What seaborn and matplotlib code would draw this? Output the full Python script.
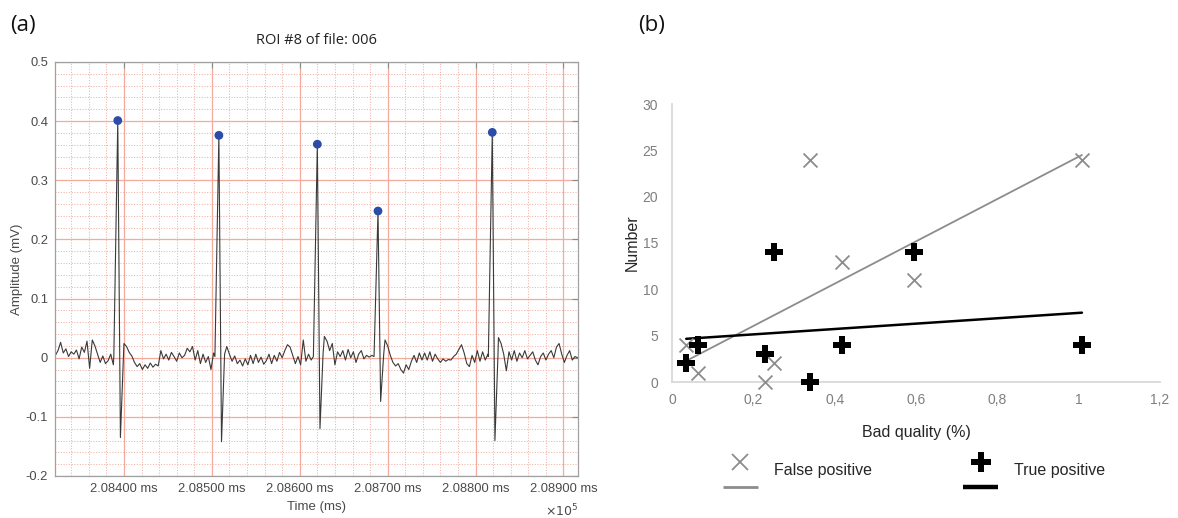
import numpy as np
import pandas as pd
import matplotlib
matplotlib.use("Agg")
import matplotlib.pyplot as plt
import seaborn as sns
from matplotlib.ticker import MultipleLocator, FixedLocator, FuncFormatter
from matplotlib.lines import Line2D
from matplotlib.legend_handler import HandlerBase

# ---------------- (a) ECG region of interest ----------------
t_start_ms = 208322.0
t_step_ms = 3.0
# baseline amplitude (mV), one sample every 3 ms
baseline_mv = [
    0.004, 0.012, 0.026, 0.008, 0.015, 0.002, 0.010, 0.006, 0.013, -0.002,
    0.018, 0.009, 0.028, -0.018, 0.030, 0.020, 0.006, -0.008, 0.003, -0.010,
    -0.005, 0.006, -0.012, 0.000, 0.000, 0.012, 0.024, 0.019, 0.009, 0.003,
    -0.008, -0.015, -0.010, -0.020, -0.012, -0.018, -0.009, -0.016, -0.011, -0.014,
    0.012, -0.002, 0.006, -0.004, 0.009, 0.002, -0.006, 0.008, 0.000, 0.004,
    0.016, 0.010, 0.019, -0.004, 0.012, -0.010, 0.006, -0.008, 0.002, -0.020,
    0.008, 0.004, 0.000, 0.000, 0.015, 0.019, 0.006, -0.006, 0.003, -0.010,
    -0.004, -0.014, -0.002, -0.012, 0.004, -0.010, 0.006, -0.008, 0.001, -0.011,
    -0.005, 0.006, -0.010, 0.004, -0.006, 0.009, 0.000, 0.012, 0.022, 0.018,
    0.004, -0.010, 0.002, -0.012, 0.030, -0.006, 0.006, -0.004, 0.000, 0.000,
    0.000, 0.000, 0.036, 0.028, 0.012, 0.024, -0.012, 0.010, 0.002, 0.012,
    -0.004, 0.014, 0.000, 0.010, -0.008, 0.006, 0.012, -0.002, 0.004, 0.001,
    0.004, 0.000, 0.000, 0.000, 0.000, 0.030, 0.020, 0.004, -0.008, -0.014,
    -0.010, -0.020, -0.026, -0.012, -0.020, -0.006, 0.004, -0.008, 0.008, -0.004,
    0.008, -0.004, 0.010, -0.006, 0.006, -0.002, -0.008, -0.002, -0.006, -0.003,
    -0.004, 0.002, 0.006, 0.014, 0.022, 0.008, -0.010, -0.015, 0.004, -0.008,
    0.012, -0.006, 0.010, -0.004, 0.006, 0.000, 0.000, 0.000, 0.034, 0.024,
    0.006, -0.022, 0.010, -0.004, 0.012, -0.006, 0.008, 0.000, 0.012, -0.002,
    0.004, 0.010, -0.004, -0.012, 0.002, 0.008, -0.004, 0.006, 0.012, 0.000,
    0.018, 0.024, 0.006, -0.008, 0.004, 0.012, -0.004, 0.002, 0.000,
]
# detected beats: R-peak time (ms), R amplitude and S trough (mV)
beat_times_ms = [208393, 208508, 208620, 208689, 208819]
r_peak_mv = [0.401, 0.376, 0.361, 0.248, 0.381]
s_trough_mv = [-0.135, -0.142, -0.120, -0.074, -0.140]

x_ticks_ms = [208400, 208500, 208600, 208700, 208800, 208900]

# ---------------- (b) detections vs. signal quality ----------------
bad_quality_pct = [0.035, 0.065, 0.229, 0.251, 0.340, 0.418, 0.596, 1.008]
false_positive = [4, 1, 0, 2, 24, 13, 11, 24]
true_positive = [2, 4, 3, 14, 0, 4, 14, 4]
b_xticks = [0, 0.2, 0.4, 0.6, 0.8, 1.0, 1.2]
b_yticks = [0, 5, 10, 15, 20, 25, 30]

# ---------------- build the ECG trace ----------------
t_base = t_start_ms + t_step_ms * np.arange(len(baseline_mv))
v_base = np.asarray(baseline_mv)
keep = np.ones(len(t_base), dtype=bool)
qrs_t, qrs_v = [], []
for tr, r, s in zip(beat_times_ms, r_peak_mv, s_trough_mv):
    keep &= ~((t_base > tr - 4.5) & (t_base < tr + 6.5))
    qrs_t += [tr - 4.5, tr, tr + 3.0, tr + 6.5]
    qrs_v += [0.002, r, s, 0.006]
ecg = pd.DataFrame({
    "t": np.concatenate([t_base[keep], qrs_t]),
    "mv": np.concatenate([v_base[keep], qrs_v]),
}).sort_values("t")
peaks = pd.DataFrame({"t": beat_times_ms, "mv": r_peak_mv})
det = pd.DataFrame({"bad": bad_quality_pct, "fp": false_positive, "tp": true_positive})

sns.set_theme(style="white")
plt.rcParams["font.family"] = ["Liberation Sans", "DejaVu Sans"]

fig = plt.figure(figsize=(11.78, 5.18), dpi=100)

# ================= panel (a) =================
ax = fig.add_axes([55 / 1178, 1 - 476 / 518, 523 / 1178, 414 / 518])
ax.set_xlim(208321.6, 208916.5)
ax.set_ylim(-0.2, 0.5)

major_c = "#f4aa9c"
minor_c = "#f3b2a5"
ax.xaxis.set_major_locator(FixedLocator(x_ticks_ms))
ax.xaxis.set_minor_locator(MultipleLocator(20))
ax.yaxis.set_major_locator(MultipleLocator(0.1))
ax.yaxis.set_minor_locator(MultipleLocator(0.02))
ax.grid(which="major", color=major_c, lw=0.9, ls="-")
ax.grid(which="minor", color=minor_c, lw=0.75, ls=(0, (1, 1.6)))
ax.set_axisbelow(True)

sns.lineplot(data=ecg, x="t", y="mv", ax=ax, color="#3a3a3a", lw=0.8,
             sort=False, estimator=None)
sns.scatterplot(data=peaks, x="t", y="mv", ax=ax, color="#2b4ca8", s=40,
                edgecolor="none", zorder=5)

ax.xaxis.set_major_formatter(FuncFormatter(lambda v, p: f"{v / 1e5:.5f} ms"))
ax.yaxis.set_major_formatter(FuncFormatter(lambda v, p: "0" if abs(v) < 1e-9 else f"{v:.1f}"))
ax.tick_params(which="major", direction="in", length=4, width=0.8, color="#8a8a8a",
               top=True, right=True, labelsize=9.3, labelcolor="#4a4a4a", pad=5)
ax.tick_params(which="minor", length=0)
for sp in ax.spines.values():
    sp.set_visible(True)
    sp.set_color("#a0a0a0")
    sp.set_linewidth(0.9)

ax.set_xlabel("Time (ms)", fontsize=9.5, color="#4a4a4a")
ax.set_ylabel("Amplitude (mV)", fontsize=9.5, color="#4a4a4a")
ax.xaxis.label.set_va("center")
ax.yaxis.label.set_va("center")
ax.xaxis.set_label_coords(0.5, -0.075)
ax.yaxis.set_label_coords(-0.073, 0.5)
ax.text(1.0, -0.085, r"$\times10^{5}$", transform=ax.transAxes, ha="right", va="center",
        fontsize=9, color="#4a4a4a")

fig.text(316 / 1178, 1 - 40 / 518, "ROI #8 of file: 006", ha="center", va="center",
         fontsize=10.5, color="#222222", family=["Open Sans", "DejaVu Sans"])
fig.text(10 / 1178, 1 - 25 / 518, "(a)", ha="left", va="center", fontsize=16,
         color="#111111", family=["Open Sans", "DejaVu Sans"])

# ================= panel (b) =================
axb = fig.add_axes([672 / 1178, 1 - 382 / 518, 488 / 1178, 278 / 518])
sns.regplot(data=det, x="bad", y="fp", ax=axb, ci=None, scatter=False, truncate=True,
            line_kws=dict(color="#8c8c8c", lw=1.3, zorder=2))
sns.regplot(data=det, x="bad", y="tp", ax=axb, ci=None, scatter=False, truncate=True,
            line_kws=dict(color="black", lw=1.8, zorder=2))
sns.scatterplot(data=det, x="bad", y="fp", ax=axb, marker="x", s=100, color="#8c8c8c",
                linewidth=1.3, zorder=3)
sns.scatterplot(data=det, x="bad", y="tp", ax=axb, marker="P", s=165, color="black",
                linewidth=0, zorder=4)
for coll in axb.collections:
    coll.set_clip_on(False)

axb.set_xlim(0, 1.2)
axb.set_ylim(0, 30)
axb.xaxis.set_major_locator(FixedLocator(b_xticks))
axb.yaxis.set_major_locator(FixedLocator(b_yticks))
axb.xaxis.set_major_formatter(FuncFormatter(lambda v, p: f"{v:g}".replace(".", ",")))
axb.tick_params(length=0, labelsize=10, labelcolor="#7f7f7f", pad=8)
axb.tick_params(axis="y", pad=10)
for side in ("top", "right"):
    axb.spines[side].set_visible(False)
for side in ("left", "bottom"):
    axb.spines[side].set_color("#d9d9d9")
    axb.spines[side].set_linewidth(1.3)
axb.grid(False)

axb.set_xlabel("Bad quality (%)", fontsize=11.5, color="#262626")
axb.set_ylabel("Number", fontsize=11.5, color="#262626")
axb.xaxis.label.set_va("center")
axb.yaxis.label.set_va("center")
axb.xaxis.set_label_coords(0.5, -0.18)
axb.yaxis.set_label_coords(-0.082, 0.5)

fig.text(638 / 1178, 1 - 25 / 518, "(b)", ha="left", va="center", fontsize=16,
         color="#111111", family=["Open Sans", "DejaVu Sans"])


class MarkerAboveLine(HandlerBase):
    """Legend key with the marker stacked above a short line sample."""

    def create_artists(self, legend, orig_handle, xdescent, ydescent, width, height,
                       fontsize, trans):
        mid = height / 2 - ydescent
        mk = Line2D([width / 2 - xdescent], [mid + 5], marker=orig_handle.get_marker(),
                    markersize=orig_handle.get_markersize(),
                    markeredgewidth=orig_handle.get_markeredgewidth(),
                    color=orig_handle.get_color(), linestyle="none", transform=trans)
        ln = Line2D([-xdescent, width - xdescent], [mid - 13, mid - 13],
                    color=orig_handle.get_color(), lw=orig_handle.get_linewidth(),
                    solid_capstyle="butt", transform=trans)
        return [mk, ln]


h_fp = Line2D([], [], marker="x", markersize=11, markeredgewidth=1.3, color="#8c8c8c", lw=2.0)
h_tp = Line2D([], [], marker="P", markersize=14, markeredgewidth=0, color="black", lw=3.2)
fig.legend([h_fp, h_tp], ["False positive", "True positive"], ncol=2, frameon=False,
           loc="center", bbox_to_anchor=(914 / 1178, 1 - 470 / 518), fontsize=11.5,
           handlelength=2.2, handletextpad=1.0, columnspacing=5.7,
           handler_map={Line2D: MarkerAboveLine()}, labelcolor="#262626")

fig.savefig("out.png", dpi=100)
